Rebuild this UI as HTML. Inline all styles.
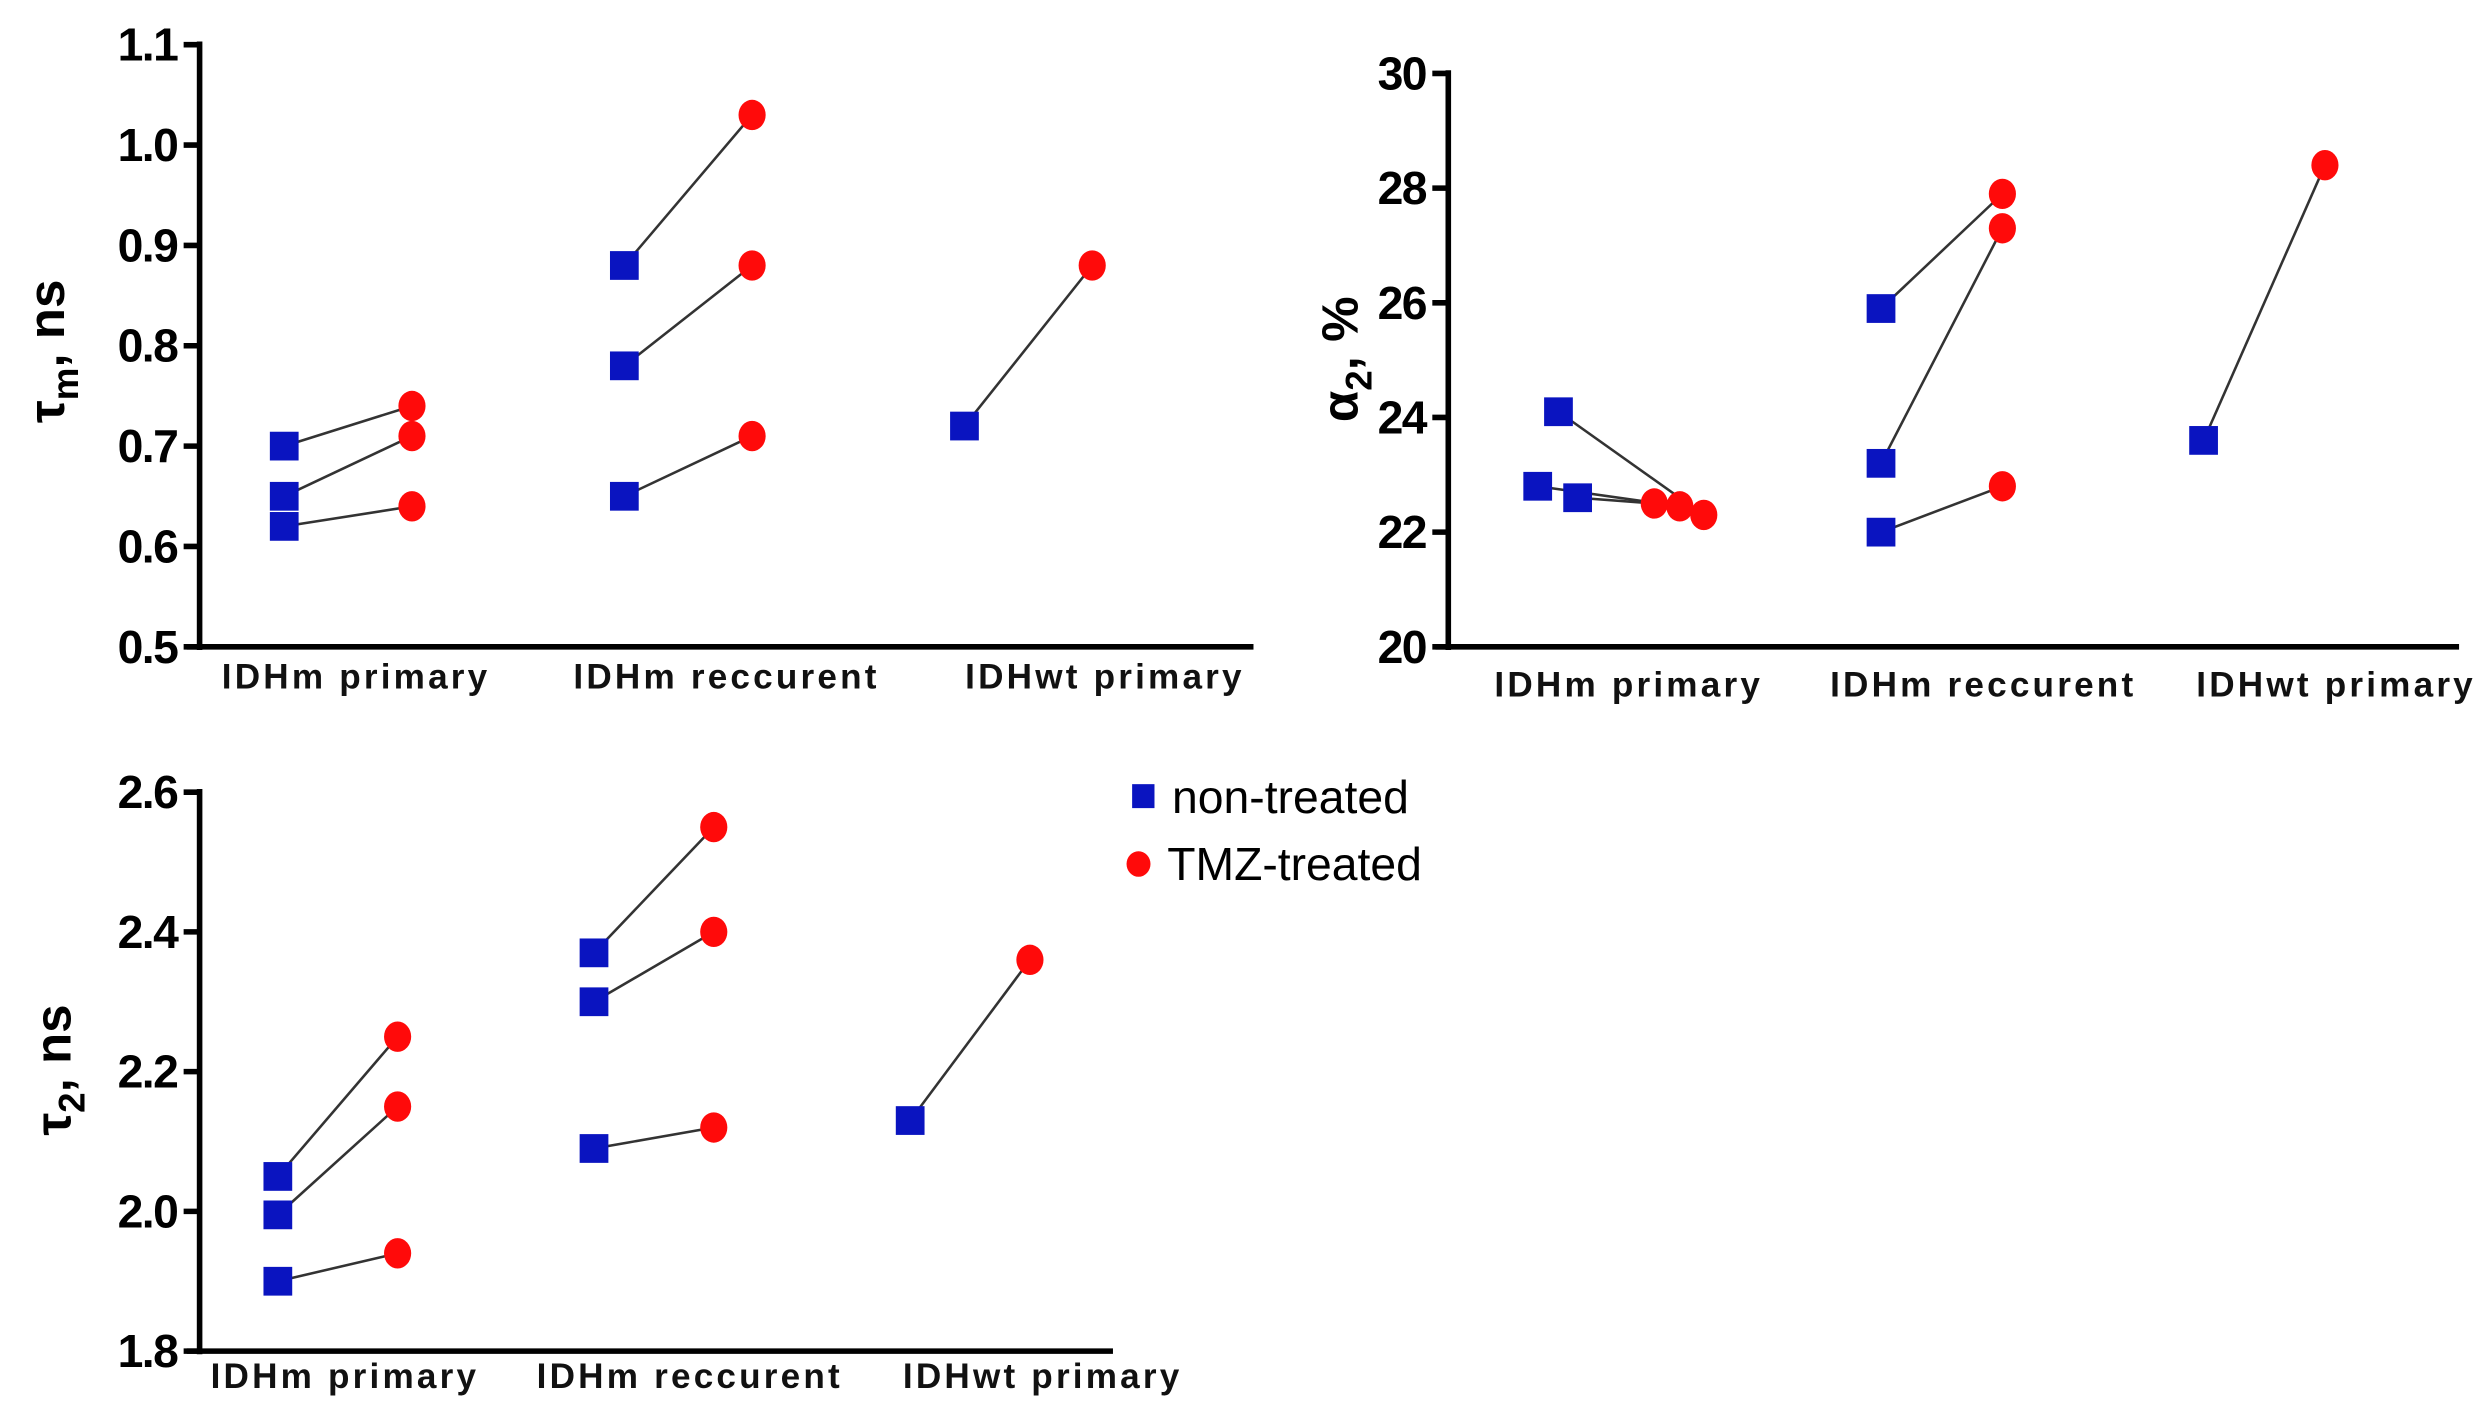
<!DOCTYPE html>
<html><head><meta charset="utf-8"><style>
html,body{margin:0;padding:0;background:#fff}
svg{display:block}
text{font-family:"Liberation Sans",sans-serif}
</style></head><body>
<svg id="fig" width="2491" height="1415" viewBox="0 0 1560 886" preserveAspectRatio="none" xmlns="http://www.w3.org/2000/svg"></svg>
<script>
// ---- data ----
const categories = ["IDHm primary", "IDHm reccurent", "IDHwt primary"];
// panel 1: tau_m, ns
const tauMTicks = ["0.5","0.6","0.7","0.8","0.9","1.0","1.1"];
const tauMNon = [[0.70,0.65,0.62],[0.88,0.78,0.65],[0.72]];
const tauMTmz = [[0.74,0.71,0.64],[1.03,0.88,0.71],[0.88]];
// panel 2: alpha_2, %
const alphaTicks = ["20","22","24","26","28","30"];
const alphaNon = [[24.1,22.8,22.6],[25.9,23.2,22.0],[23.6]];
const alphaTmz = [[22.3,22.45,22.5],[27.9,27.3,22.8],[28.4]];
// panel 3: tau_2, ns
const tau2Ticks = ["1.8","2.0","2.2","2.4","2.6"];
const tau2Non = [[2.05,1.995,1.90],[2.37,2.30,2.09],[2.13]];
const tau2Tmz = [[2.25,2.15,1.94],[2.55,2.40,2.12],[2.36]];

const NS="http://www.w3.org/2000/svg";
const svg=document.getElementById('fig');
function mk(tag,attrs,parent){const e=document.createElementNS(NS,tag);for(const k in attrs)e.setAttribute(k,attrs[k]);(parent||svg).appendChild(e);return e;}

const panels=[
 {id:'tau-m',ax:125,ay0:405,ay1:28,axEnd:785,min:0.5,max:1.1,ticks:tauMTicks,non:tauMNon,tmz:tauMTmz,
  sqX:[178,391,604],ciX:[258,471,684],sqJ:[[0,0,0],[0,0,0],[0]],ciJ:[[0,0,0],[0,0,0],[0]],
  labX:[223,455,692],labY:431,title:['τ','m',', ns'],titleX:40,titleY:220},
 {id:'alpha-2',ax:907,ay0:405,ay1:46,axEnd:1540,min:20,max:30,ticks:alphaTicks,non:alphaNon,tmz:alphaTmz,
  sqX:[976,1178,1380],ciX:[1067,1254,1456],sqJ:[[0,-13,12],[0,0,0],[0]],ciJ:[[0,-15,-31],[0,0,0],[0]],
  labX:[1020,1242,1463],labY:436,title:['α','2',', %'],titleX:850,titleY:225},
 {id:'tau-2',ax:125,ay0:846,ay1:496,axEnd:697,min:1.8,max:2.6,ticks:tau2Ticks,non:tau2Non,tmz:tau2Tmz,
  sqX:[174,372,570],ciX:[249,447,645],sqJ:[[0,0,0],[0,0,0],[0]],ciJ:[[0,0,0],[0,0,0],[0]],
  labX:[216,432,653],labY:869,title:['τ','2',', ns'],titleX:44,titleY:670}
];

panels.forEach(p=>{
  const g=mk('g',{});
  
  
  const y=v=>p.ay0-(v-p.min)/(p.max-p.min)*(p.ay0-p.ay1);
  const ya=mk('line',{x1:p.ax,y1:p.ay1-2,x2:p.ax,y2:p.ay0+2,stroke:'#000','stroke-width':3.5},g);
  
  
  const xa=mk('line',{x1:p.ax-8,y1:p.ay0,x2:p.axEnd,y2:p.ay0,stroke:'#000','stroke-width':3.5},g);
  
  
  p.ticks.forEach(t=>{
    const yy=y(parseFloat(t));
    mk('line',{x1:p.ax-10,y1:yy,x2:p.ax,y2:yy,stroke:'#000','stroke-width':3.5},g);
    const tx=mk('text',{x:p.ax-14,y:yy+10,'text-anchor':'end','font-size':29,'font-weight':'bold','letter-spacing':-1},g);
    tx.textContent=t;
    
    
  });
  categories.forEach((c,i)=>{
    const tx=mk('text',{x:p.labX[i],y:p.labY,'text-anchor':'middle','font-size':22,'font-weight':'bold','letter-spacing':2,fill:'#111'},g);
    tx.textContent=c;
    
    
  });
  const tt=mk('text',{transform:`translate(${p.titleX},${p.titleY}) rotate(-90)`,'text-anchor':'middle','font-size':32,'font-weight':'bold'},g);
  
  
  const s1=mk('tspan',{},tt);s1.textContent=p.title[0];
  const s2=mk('tspan',{dy:9,'font-size':23},tt);s2.textContent=p.title[1];
  const s3=mk('tspan',{dy:-9},tt);s3.textContent=p.title[2];
  categories.forEach((c,i)=>{
    p.non[i].forEach((v,j)=>{
      const x1=p.sqX[i]+p.sqJ[i][j], x2=p.ciX[i]+p.ciJ[i][j];
      const ln=mk('line',{x1:x1,y1:y(v),x2:x2,y2:y(p.tmz[i][j]),stroke:'#333','stroke-width':1.6},g);
      
      
    });
  });
  categories.forEach((c,i)=>{
    p.non[i].forEach((v,j)=>{
      const x1=p.sqX[i]+p.sqJ[i][j];
      const sq=mk('rect',{x:x1-9,y:y(v)-9,width:18,height:18,fill:'#0a14c0'},g);
      
      
    });
    p.tmz[i].forEach((v,j)=>{
      const x2=p.ciX[i]+p.ciJ[i][j];
      const ci=mk('ellipse',{cx:x2,cy:y(v),rx:8.5,ry:9.5,fill:'#ff0a0a'},g);
      
      
    });
  });
});
const lg=mk('g',{});


const l1=mk('rect',{x:709,y:491,width:14,height:15,fill:'#0a14c0'},lg);


const t1=mk('text',{x:734,y:509,'font-size':29},lg);t1.textContent='non-treated';


const l2=mk('ellipse',{cx:713,cy:541,rx:7.5,ry:8,fill:'#ff0a0a'},lg);


const t2=mk('text',{x:731,y:551,'font-size':29},lg);t2.textContent='TMZ-treated';


</script>
</body></html>
